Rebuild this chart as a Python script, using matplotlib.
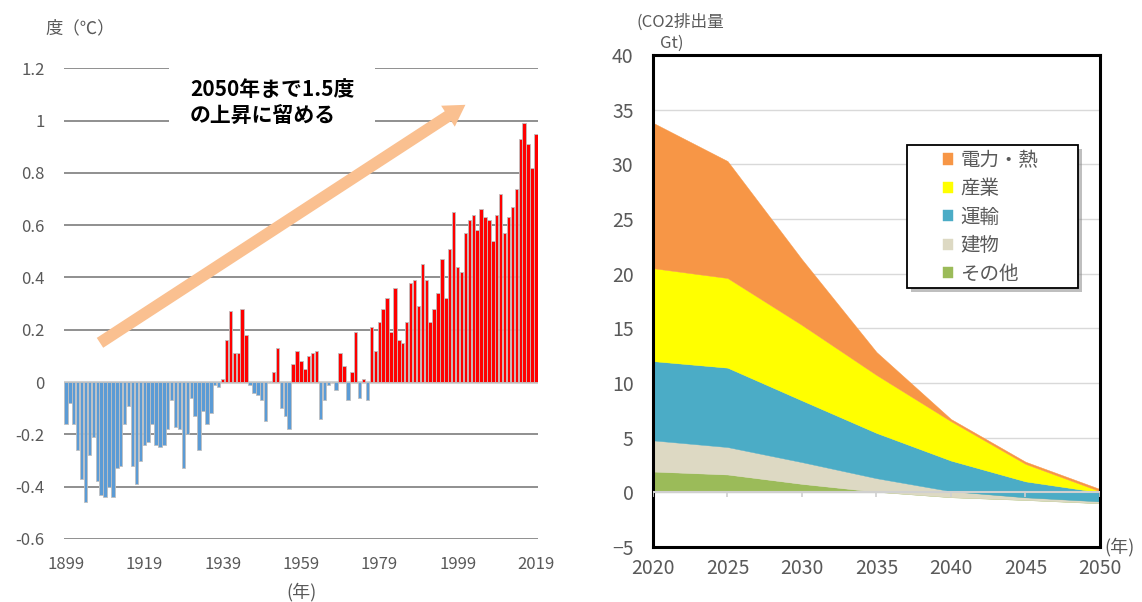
import numpy as np
import matplotlib.pyplot as plt
import matplotlib.patheffects as pe
from matplotlib.patches import Rectangle

plt.rcParams['font.family'] = ['Noto Sans CJK JP', 'DejaVu Sans']

# --- left chart: temperature anomaly (deg C) 1899-2019
years = np.arange(1899, 2020)
anomaly = [
    -0.16, -0.08, -0.16, -0.26, -0.37, -0.46, -0.28, -0.21, -0.38, -0.43,
    -0.44, -0.40, -0.44, -0.33, -0.32, -0.16, -0.09, -0.32, -0.39, -0.30,
    -0.24, -0.23, -0.16, -0.24, -0.25, -0.24, -0.18, -0.07, -0.17, -0.18,
    -0.33, -0.20, -0.06, -0.13, -0.26, -0.11, -0.16, -0.12, -0.01, -0.02,
    0.01, 0.16, 0.27, 0.11, 0.11, 0.28, 0.18, -0.01, -0.04, -0.05,
    -0.07, -0.15, 0.00, 0.04, 0.13, -0.10, -0.13, -0.18, 0.07, 0.12,
    0.08, 0.05, 0.10, 0.11, 0.12, -0.14, -0.07, -0.01, 0.00, -0.03,
    0.11, 0.06, -0.07, 0.04, 0.19, -0.06, 0.01, -0.07, 0.21, 0.12,
    0.23, 0.28, 0.32, 0.19, 0.36, 0.16, 0.15, 0.23, 0.38, 0.39,
    0.29, 0.45, 0.39, 0.23, 0.28, 0.34, 0.47, 0.32, 0.51, 0.65,
    0.44, 0.42, 0.57, 0.62, 0.64, 0.58, 0.66, 0.63, 0.62, 0.54,
    0.64, 0.72, 0.57, 0.63, 0.67, 0.74, 0.93, 0.99, 0.91, 0.82, 0.95,
]
tick_years = [1899, 1919, 1939, 1959, 1979, 1999, 2019]
temp_ticks = [-0.6, -0.4, -0.2, 0, 0.2, 0.4, 0.6, 0.8, 1, 1.2]

# --- right chart: CO2 emissions by sector (Gt)
co2_years = [2020, 2025, 2030, 2035, 2040, 2045, 2050]
other = [1.9, 1.63, 0.77, 0.05, -0.45, -0.7, -1.0]
buildings = [2.85, 2.51, 1.99, 1.24, 0.55, 0.24, 0.17]
transport = [7.25, 7.26, 5.64, 4.14, 2.8, 1.46, 0.83]
industry = [8.5, 8.2, 6.9, 5.3, 3.6, 1.6, 0.1]
power = [13.3, 10.7, 6.0, 2.1, 0.2, 0.2, 0.2]
sector_labels = ['その他', '建物', '運輸', '産業', '電力・熱']
sector_colors = ['#9BBB59', '#DDD9C3', '#4BACC6', '#FFFF00', '#F79646']

GRAY = '#595959'

fig = plt.figure(figsize=(11.42, 6.02), dpi=100)

# left: bars
ax1 = fig.add_axes([0.056, 0.1047, 0.415, 0.782])
anomaly = np.array(anomaly)
bar_colors = np.where(anomaly >= 0, '#FF0000', '#5B9BD5')
ax1.bar(years, anomaly, width=0.86, color=bar_colors,
        edgecolor='#C0C0C0', linewidth=0.6, zorder=2)
ax1.set_xlim(1898.5, 2019.5)
ax1.set_ylim(-0.6, 1.2)
ax1.set_yticks(temp_ticks)
ax1.set_yticklabels([f'{t:g}' for t in temp_ticks])
ax1.set_xticks(tick_years)
ax1.tick_params(length=0, colors=GRAY, labelsize=12)
ax1.tick_params(axis='y', pad=14)
ax1.tick_params(axis='x', pad=12)
ax1.grid(axis='y', color='#878787', linewidth=1.3)
ax1.set_axisbelow(True)
ax1.axhline(0, color='#D0D0D0', linewidth=2.2, zorder=1.5)
for s in ax1.spines.values():
    s.set_visible(False)

ax1.annotate('', xy=(2001.0, 1.06), xytext=(1907.7, 0.15),
             arrowprops=dict(facecolor='#FAC090', edgecolor='none', width=8.5,
                             headwidth=18, headlength=15, shrink=0),
             zorder=3)
ax1.text(1930.7, 1.07, '2050年まで1.5度\nの上昇に留める', ha='left', va='center',
         fontsize=15, fontweight='bold', linespacing=1.3,
         bbox=dict(boxstyle='square,pad=1.0', facecolor='white', edgecolor='none'),
         zorder=4)

fig.text(45 / 1142, 1 - 28 / 602, '度（℃）', ha='left', va='center',
         fontsize=12.5, color=GRAY)
fig.text(301 / 1142, 1 - 592 / 602, '(年)', ha='center', va='center',
         fontsize=13, color=GRAY)

# right: stacked area
ax2 = fig.add_axes([0.5718, 0.0914, 0.3914, 0.8173])
ax2.stackplot(co2_years, other, buildings, transport, industry, power,
              colors=sector_colors, labels=sector_labels, zorder=2,
              edgecolor='face', linewidth=0.3)
ax2.set_xlim(2020, 2050)
ax2.set_ylim(-5, 40)
ax2.set_yticks(range(-5, 41, 5))
ax2.set_xticks(co2_years)
ax2.tick_params(length=0, colors=GRAY, labelsize=14)
ax2.tick_params(axis='y', pad=14)
ax2.tick_params(axis='x', pad=8)
ax2.grid(axis='y', color='#D9D9D9', linewidth=1)
ax2.set_axisbelow(True)
for s in ax2.spines.values():
    s.set_linewidth(2.2)
    s.set_color('black')
ax2.axhline(0, color='#D0D0D0', linewidth=1.5, zorder=3)
ax2.vlines(co2_years, -0.45, 0, color='#D0D0D0', linewidth=1.2, zorder=3)

frame = Rectangle((0.568, 0.526), 0.383, 0.291, transform=ax2.transAxes,
                  facecolor='white', edgecolor='black', linewidth=1.3, zorder=5,
                  path_effects=[pe.withSimplePatchShadow(offset=(3, -3),
                                                         shadow_rgbFace='gray',
                                                         alpha=0.5)])
ax2.add_patch(frame)
handles, labels = ax2.get_legend_handles_labels()
leg = ax2.legend(handles[::-1], labels[::-1], loc='upper left',
                 bbox_to_anchor=(0.64, 0.815), frameon=False, fontsize=14,
                 labelcolor=GRAY, handlelength=0.5, handleheight=0.5,
                 handletextpad=0.4, labelspacing=0.38, borderaxespad=0,
                 borderpad=0.2)
leg.set_zorder(6)

fig.text(636 / 1142, 1 - 22 / 602, '(CO2排出量', ha='left', va='center',
         fontsize=12, color=GRAY)
fig.text(660 / 1142, 1 - 43 / 602, 'Gt)', ha='left', va='center',
         fontsize=12, color=GRAY)
fig.text(1104 / 1142, 1 - 547 / 602, '(年)', ha='left', va='center',
         fontsize=13, color=GRAY)

fig.savefig('out.png', dpi=100)
